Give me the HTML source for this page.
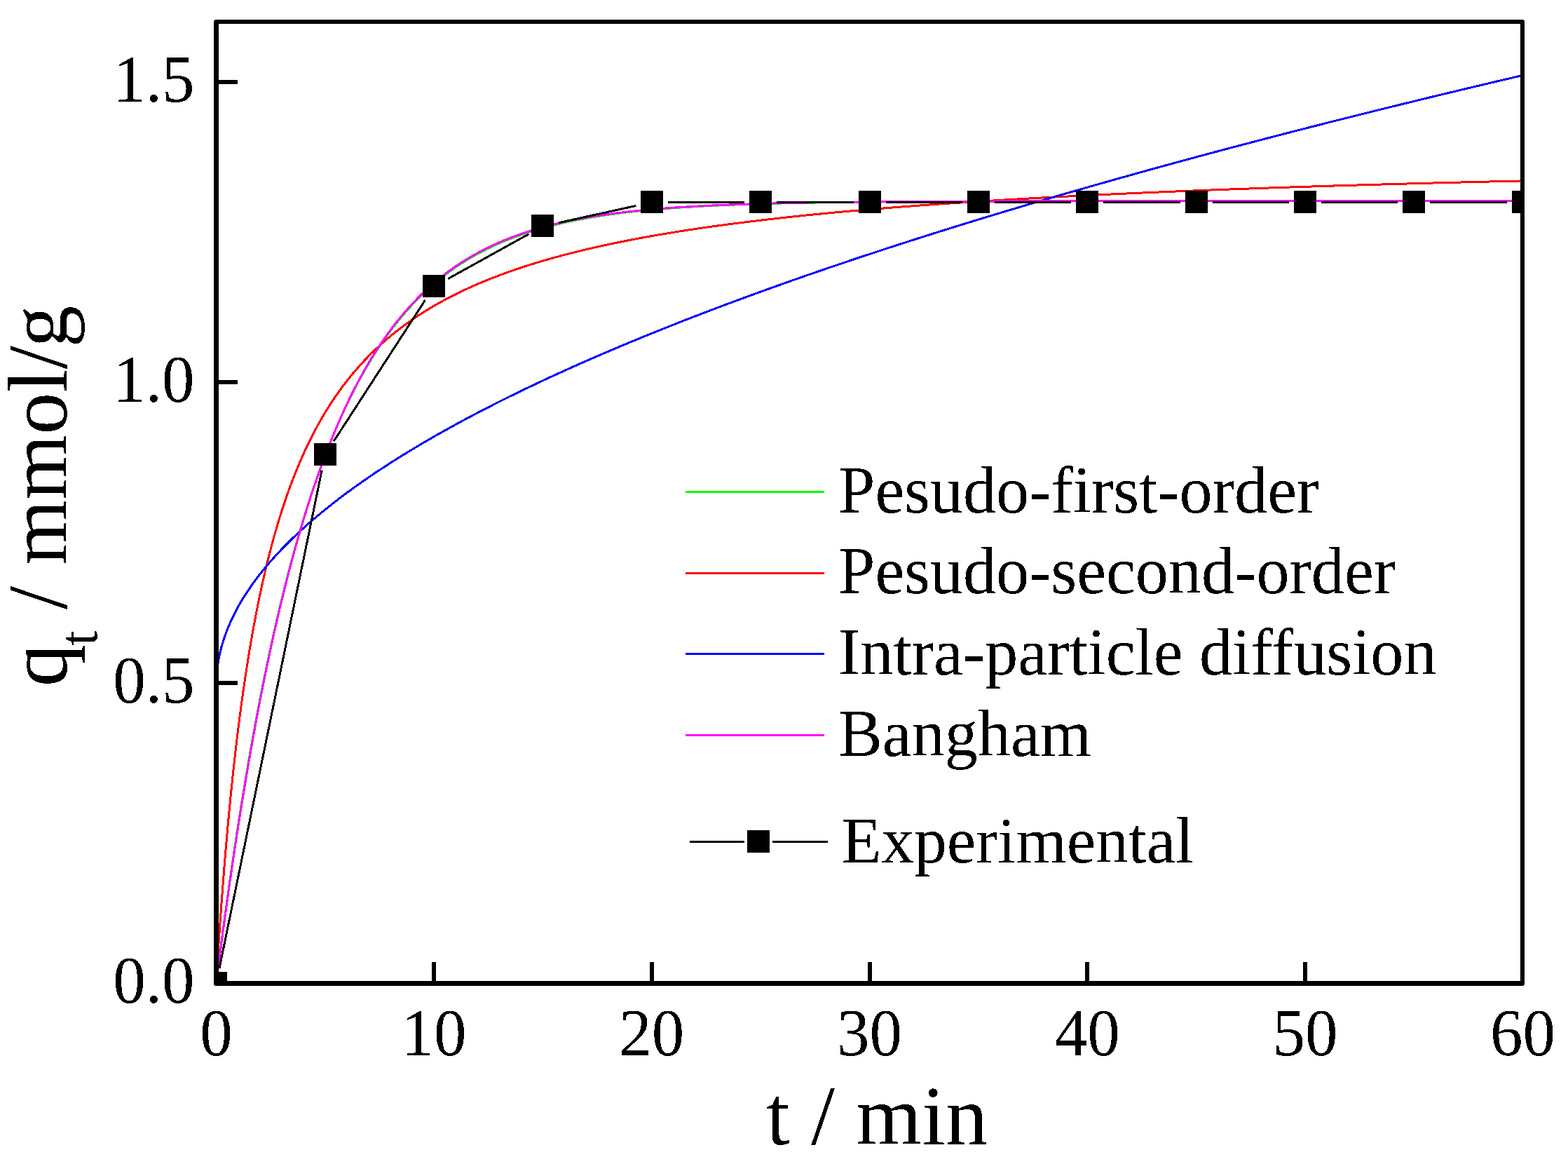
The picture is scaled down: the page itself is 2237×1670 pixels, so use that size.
<!DOCTYPE html>
<html lang="en"><head><meta charset="utf-8"><title>Adsorption kinetics</title>
<style>html,body{margin:0;padding:0;background:#fff}body{width:2237px;height:1670px;overflow:hidden}svg{display:block}text{font-family:"Liberation Serif","Times New Roman",serif;fill:#000}</style>
</head><body>
<svg width="2237" height="1670" viewBox="0 0 2237 1670" role="img" aria-label="Adsorption kinetics: qt versus t">
<rect width="2237" height="1670" fill="#fff"/>
<defs><clipPath id="plot"><rect x="312" y="34" width="1857" height="1365"/></clipPath><filter id="bin" x="-5%" y="-5%" width="110%" height="110%" color-interpolation-filters="sRGB"><feComponentTransfer><feFuncA type="discrete" tableValues="0 1"/></feComponentTransfer></filter></defs>
<g clip-path="url(#plot)" fill="none" stroke-width="3" stroke-linejoin="round" shape-rendering="crispEdges">
<path stroke="#00ff00" d="M308.40,1402.50 L308.41,1402.46 L308.42,1402.33 L308.45,1402.12 L308.48,1401.83 L308.53,1401.46 L308.59,1401.00 L308.65,1400.46 L308.73,1399.83 L308.82,1399.12 L308.92,1398.33 L309.03,1397.46 L309.15,1396.51 L309.28,1395.47 L309.41,1394.35 L309.57,1393.15 L309.73,1391.87 L309.90,1390.50 L310.08,1389.06 L310.27,1387.54 L310.47,1385.93 L310.68,1384.25 L310.91,1382.48 L311.14,1380.64 L311.38,1378.72 L311.64,1376.72 L311.90,1374.64 L312.18,1372.49 L312.46,1370.26 L312.75,1367.95 L313.06,1365.57 L313.38,1363.11 L313.70,1360.57 L314.04,1357.97 L314.39,1355.29 L314.74,1352.53 L315.11,1349.71 L315.49,1346.81 L315.88,1343.84 L316.28,1340.80 L316.69,1337.69 L317.10,1334.51 L317.53,1331.26 L317.97,1327.95 L318.43,1324.56 L318.89,1321.11 L319.36,1317.60 L319.84,1314.02 L320.33,1310.38 L320.83,1306.67 L321.35,1302.90 L321.87,1299.07 L322.40,1295.18 L322.95,1291.22 L323.50,1287.21 L324.06,1283.14 L324.64,1279.01 L325.22,1274.83 L325.82,1270.59 L326.43,1266.29 L327.04,1261.94 L327.67,1257.54 L328.31,1253.08 L328.95,1248.57 L329.61,1244.02 L330.28,1239.41 L330.96,1234.75 L331.65,1230.05 L332.34,1225.30 L333.05,1220.50 L333.77,1215.66 L334.50,1210.77 L335.24,1205.84 L336.00,1200.87 L336.76,1195.86 L337.53,1190.81 L338.31,1185.72 L339.10,1180.59 L339.90,1175.42 L340.72,1170.22 L341.54,1164.98 L342.38,1159.71 L343.22,1154.40 L344.07,1149.06 L344.94,1143.69 L345.81,1138.29 L346.70,1132.86 L347.59,1127.41 L348.50,1121.92 L349.42,1116.41 L350.34,1110.87 L351.28,1105.31 L352.23,1099.73 L353.19,1094.12 L354.16,1088.50 L355.13,1082.85 L356.12,1077.18 L357.12,1071.50 L358.13,1065.79 L359.15,1060.07 L360.18,1054.34 L361.22,1048.59 L362.28,1042.83 L363.34,1037.05 L364.41,1031.27 L365.49,1025.47 L366.58,1019.66 L367.69,1013.85 L368.80,1008.02 L369.92,1002.19 L371.06,996.36 L372.20,990.51 L373.36,984.67 L374.52,978.82 L375.70,972.97 L376.88,967.12 L378.08,961.26 L379.29,955.41 L380.50,949.56 L381.73,943.71 L382.97,937.86 L384.22,932.02 L385.47,926.18 L386.74,920.35 L388.02,914.52 L389.31,908.70 L390.61,902.89 L391.92,897.09 L393.24,891.29 L394.57,885.51 L395.91,879.74 L397.27,873.98 L398.63,868.23 L400.00,862.49 L401.38,856.77 L402.78,851.06 L404.18,845.37 L405.59,839.70 L407.02,834.04 L408.45,828.40 L409.90,822.77 L411.35,817.17 L412.82,811.58 L414.29,806.02 L415.78,800.48 L417.27,794.95 L418.78,789.45 L420.30,783.97 L421.83,778.51 L423.36,773.08 L424.91,767.67 L426.47,762.29 L428.04,756.93 L429.62,751.60 L431.21,746.29 L432.81,741.01 L434.42,735.75 L436.04,730.53 L437.67,725.33 L439.31,720.16 L440.97,715.02 L442.63,709.91 L444.30,704.82 L445.98,699.77 L447.68,694.75 L449.38,689.76 L451.09,684.80 L452.82,679.88 L454.55,674.98 L456.30,670.12 L458.05,665.29 L459.82,660.49 L461.60,655.72 L463.38,650.99 L465.18,646.29 L466.99,641.63 L468.80,637.00 L470.63,632.41 L472.47,627.85 L474.32,623.32 L476.18,618.83 L478.05,614.38 L479.93,609.96 L481.82,605.58 L483.72,601.23 L485.63,596.92 L487.55,592.64 L489.48,588.41 L491.42,584.20 L493.38,580.04 L495.34,575.91 L497.31,571.82 L499.29,567.76 L501.29,563.74 L503.29,559.76 L505.31,555.82 L507.33,551.91 L509.37,548.04 L511.41,544.21 L513.47,540.41 L515.53,536.66 L517.61,532.93 L519.70,529.25 L521.79,525.60 L523.90,522.00 L526.02,518.42 L528.15,514.89 L530.29,511.39 L532.44,507.93 L534.59,504.51 L536.76,501.12 L538.94,497.77 L541.14,494.46 L543.34,491.18 L545.55,487.94 L547.77,484.74 L550.00,481.57 L552.24,478.44 L554.50,475.35 L556.76,472.29 L559.03,469.26 L561.31,466.28 L563.61,463.33 L565.91,460.41 L568.23,457.53 L570.55,454.69 L572.89,451.88 L575.23,449.10 L577.59,446.36 L579.96,443.65 L582.33,440.98 L584.72,438.35 L587.12,435.74 L589.53,433.17 L591.94,430.64 L594.37,428.13 L596.81,425.66 L599.26,423.23 L601.72,420.82 L604.19,418.45 L606.67,416.11 L609.16,413.80 L611.66,411.53 L614.18,409.28 L616.70,407.07 L619.23,404.89 L621.77,402.74 L624.32,400.62 L626.89,398.53 L629.46,396.47 L632.05,394.44 L634.64,392.44 L637.24,390.47 L639.86,388.53 L642.49,386.61 L645.12,384.73 L647.77,382.87 L650.42,381.05 L653.09,379.24 L655.77,377.47 L658.46,375.73 L661.15,374.01 L663.86,372.32 L666.58,370.65 L669.31,369.01 L672.05,367.40 L674.80,365.81 L677.56,364.25 L680.33,362.72 L683.11,361.20 L685.90,359.72 L688.70,358.25 L691.51,356.82 L694.34,355.40 L697.17,354.01 L700.01,352.64 L702.86,351.30 L705.73,349.97 L708.60,348.67 L711.49,347.39 L714.38,346.14 L717.29,344.90 L720.20,343.69 L723.13,342.50 L726.06,341.33 L729.01,340.18 L731.97,339.05 L734.93,337.94 L737.91,336.85 L740.90,335.78 L743.90,334.72 L746.91,333.69 L749.93,332.68 L752.95,331.68 L755.99,330.71 L759.04,329.75 L762.10,328.81 L765.18,327.88 L768.26,326.97 L771.35,326.09 L774.45,325.21 L777.56,324.36 L780.68,323.52 L783.82,322.69 L786.96,321.88 L790.11,321.09 L793.28,320.31 L796.45,319.55 L799.64,318.80 L802.83,318.07 L806.04,317.35 L809.25,316.65 L812.48,315.96 L815.72,315.28 L818.96,314.62 L822.22,313.97 L825.49,313.33 L828.77,312.71 L832.05,312.10 L835.35,311.50 L838.66,310.92 L841.98,310.34 L845.31,309.78 L848.65,309.23 L852.00,308.69 L855.36,308.16 L858.73,307.65 L862.11,307.14 L865.51,306.65 L868.91,306.16 L872.32,305.69 L875.74,305.22 L879.18,304.77 L882.62,304.32 L886.07,303.89 L889.54,303.46 L893.01,303.05 L896.50,302.64 L899.99,302.24 L903.50,301.86 L907.02,301.48 L910.54,301.10 L914.08,300.74 L917.63,300.38 L921.18,300.04 L924.75,299.70 L928.33,299.37 L931.92,299.04 L935.52,298.72 L939.13,298.41 L942.75,298.11 L946.38,297.82 L950.02,297.53 L953.67,297.24 L957.33,296.97 L961.00,296.70 L964.68,296.44 L968.37,296.18 L972.08,295.93 L975.79,295.69 L979.51,295.45 L983.25,295.21 L986.99,294.99 L990.74,294.76 L994.51,294.55 L998.28,294.34 L1002.07,294.13 L1005.86,293.93 L1009.67,293.73 L1013.49,293.54 L1017.31,293.35 L1021.15,293.17 L1025.00,292.99 L1028.86,292.82 L1032.72,292.65 L1036.60,292.49 L1040.49,292.33 L1044.39,292.17 L1048.30,292.02 L1052.22,291.87 L1056.15,291.72 L1060.09,291.58 L1064.04,291.44 L1068.00,291.31 L1071.98,291.18 L1075.96,291.05 L1079.95,290.93 L1083.95,290.81 L1087.97,290.69 L1091.99,290.57 L1096.02,290.46 L1100.07,290.35 L1104.12,290.25 L1108.19,290.14 L1112.26,290.04 L1116.35,289.95 L1120.45,289.85 L1124.55,289.76 L1128.67,289.67 L1132.80,289.58 L1136.93,289.50 L1141.08,289.41 L1145.24,289.33 L1149.41,289.25 L1153.59,289.18 L1157.78,289.10 L1161.98,289.03 L1166.19,288.96 L1170.41,288.89 L1174.64,288.83 L1178.88,288.76 L1183.13,288.70 L1187.39,288.64 L1191.66,288.58 L1195.95,288.52 L1200.24,288.47 L1204.54,288.41 L1208.86,288.36 L1213.18,288.31 L1217.51,288.26 L1221.86,288.21 L1226.21,288.16 L1230.58,288.12 L1234.95,288.07 L1239.34,288.03 L1243.74,287.99 L1248.14,287.94 L1252.56,287.91 L1256.99,287.87 L1261.43,287.83 L1265.87,287.79 L1270.33,287.76 L1274.80,287.72 L1279.28,287.69 L1283.77,287.66 L1288.27,287.63 L1292.78,287.60 L1297.30,287.57 L1301.83,287.54 L1306.37,287.51 L1310.93,287.49 L1315.49,287.46 L1320.06,287.43 L1324.64,287.41 L1329.24,287.39 L1333.84,287.36 L1338.45,287.34 L1343.08,287.32 L1347.71,287.30 L1352.36,287.28 L1357.01,287.26 L1361.68,287.24 L1366.35,287.22 L1371.04,287.20 L1375.74,287.19 L1380.44,287.17 L1385.16,287.15 L1389.89,287.14 L1394.63,287.12 L1399.38,287.11 L1404.14,287.09 L1408.90,287.08 L1413.68,287.07 L1418.47,287.05 L1423.27,287.04 L1428.09,287.03 L1432.91,287.02 L1437.74,287.01 L1442.58,287.00 L1447.43,286.98 L1452.29,286.97 L1457.17,286.96 L1462.05,286.95 L1466.94,286.95 L1471.85,286.94 L1476.76,286.93 L1481.69,286.92 L1486.62,286.91 L1491.57,286.90 L1496.52,286.90 L1501.49,286.89 L1506.46,286.88 L1511.45,286.87 L1516.45,286.87 L1521.46,286.86 L1526.47,286.85 L1531.50,286.85 L1536.54,286.84 L1541.59,286.84 L1546.65,286.83 L1551.72,286.83 L1556.80,286.82 L1561.89,286.82 L1566.99,286.81 L1572.10,286.81 L1577.22,286.80 L1582.35,286.80 L1587.49,286.79 L1592.65,286.79 L1597.81,286.79 L1602.98,286.78 L1608.17,286.78 L1613.36,286.78 L1618.56,286.77 L1623.78,286.77 L1629.00,286.77 L1634.24,286.76 L1639.49,286.76 L1644.74,286.76 L1650.01,286.76 L1655.28,286.75 L1660.57,286.75 L1665.87,286.75 L1671.18,286.75 L1676.49,286.74 L1681.82,286.74 L1687.16,286.74 L1692.51,286.74 L1697.87,286.73 L1703.24,286.73 L1708.62,286.73 L1714.01,286.73 L1719.41,286.73 L1724.82,286.73 L1730.25,286.72 L1735.68,286.72 L1741.12,286.72 L1746.57,286.72 L1752.04,286.72 L1757.51,286.72 L1762.99,286.72 L1768.49,286.72 L1773.99,286.71 L1779.51,286.71 L1785.03,286.71 L1790.57,286.71 L1796.11,286.71 L1801.67,286.71 L1807.24,286.71 L1812.81,286.71 L1818.40,286.71 L1824.00,286.71 L1829.61,286.70 L1835.23,286.70 L1840.86,286.70 L1846.49,286.70 L1852.14,286.70 L1857.80,286.70 L1863.47,286.70 L1869.15,286.70 L1874.85,286.70 L1880.55,286.70 L1886.26,286.70 L1891.98,286.70 L1897.71,286.70 L1903.46,286.70 L1909.21,286.70 L1914.97,286.70 L1920.75,286.70 L1926.53,286.70 L1932.33,286.69 L1938.13,286.69 L1943.95,286.69 L1949.77,286.69 L1955.61,286.69 L1961.45,286.69 L1967.31,286.69 L1973.18,286.69 L1979.05,286.69 L1984.94,286.69 L1990.84,286.69 L1996.75,286.69 L2002.67,286.69 L2008.60,286.69 L2014.54,286.69 L2020.49,286.69 L2026.45,286.69 L2032.42,286.69 L2038.40,286.69 L2044.39,286.69 L2050.39,286.69 L2056.40,286.69 L2062.43,286.69 L2068.46,286.69 L2074.50,286.69 L2080.56,286.69 L2086.62,286.69 L2092.69,286.69 L2098.78,286.69 L2104.87,286.69 L2110.98,286.69 L2117.09,286.69 L2123.22,286.69 L2129.36,286.69 L2135.50,286.69 L2141.66,286.69 L2147.83,286.69 L2154.00,286.69 L2160.19,286.69 L2166.39,286.69 L2172.60,286.69"/>
<path stroke="#ff0000" d="M308.40,1402.50 L308.41,1402.41 L308.42,1402.16 L308.45,1401.73 L308.48,1401.12 L308.53,1400.35 L308.59,1399.41 L308.65,1398.30 L308.73,1397.01 L308.82,1395.57 L308.92,1393.95 L309.03,1392.17 L309.15,1390.23 L309.28,1388.12 L309.41,1385.86 L309.57,1383.44 L309.73,1380.86 L309.90,1378.13 L310.08,1375.24 L310.27,1372.21 L310.47,1369.03 L310.68,1365.70 L310.91,1362.24 L311.14,1358.63 L311.38,1354.89 L311.64,1351.02 L311.90,1347.01 L312.18,1342.88 L312.46,1338.62 L312.75,1334.24 L313.06,1329.75 L313.38,1325.14 L313.70,1320.42 L314.04,1315.59 L314.39,1310.65 L314.74,1305.62 L315.11,1300.49 L315.49,1295.26 L315.88,1289.94 L316.28,1284.53 L316.69,1279.04 L317.10,1273.47 L317.53,1267.82 L317.97,1262.10 L318.43,1256.30 L318.89,1250.44 L319.36,1244.52 L319.84,1238.53 L320.33,1232.49 L320.83,1226.39 L321.35,1220.25 L321.87,1214.05 L322.40,1207.81 L322.95,1201.53 L323.50,1195.21 L324.06,1188.85 L324.64,1182.46 L325.22,1176.05 L325.82,1169.60 L326.43,1163.13 L327.04,1156.64 L327.67,1150.13 L328.31,1143.61 L328.95,1137.07 L329.61,1130.52 L330.28,1123.96 L330.96,1117.40 L331.65,1110.83 L332.34,1104.26 L333.05,1097.69 L333.77,1091.12 L334.50,1084.56 L335.24,1078.00 L336.00,1071.45 L336.76,1064.92 L337.53,1058.39 L338.31,1051.88 L339.10,1045.38 L339.90,1038.90 L340.72,1032.44 L341.54,1026.00 L342.38,1019.58 L343.22,1013.18 L344.07,1006.81 L344.94,1000.46 L345.81,994.14 L346.70,987.85 L347.59,981.58 L348.50,975.35 L349.42,969.15 L350.34,962.98 L351.28,956.84 L352.23,950.73 L353.19,944.66 L354.16,938.63 L355.13,932.63 L356.12,926.66 L357.12,920.74 L358.13,914.85 L359.15,909.00 L360.18,903.19 L361.22,897.42 L362.28,891.69 L363.34,886.00 L364.41,880.35 L365.49,874.74 L366.58,869.17 L367.69,863.64 L368.80,858.16 L369.92,852.72 L371.06,847.32 L372.20,841.96 L373.36,836.64 L374.52,831.37 L375.70,826.14 L376.88,820.96 L378.08,815.81 L379.29,810.71 L380.50,805.65 L381.73,800.64 L382.97,795.67 L384.22,790.74 L385.47,785.86 L386.74,781.01 L388.02,776.21 L389.31,771.46 L390.61,766.74 L391.92,762.07 L393.24,757.44 L394.57,752.85 L395.91,748.31 L397.27,743.80 L398.63,739.34 L400.00,734.92 L401.38,730.54 L402.78,726.20 L404.18,721.91 L405.59,717.65 L407.02,713.43 L408.45,709.26 L409.90,705.12 L411.35,701.02 L412.82,696.96 L414.29,692.95 L415.78,688.97 L417.27,685.02 L418.78,681.12 L420.30,677.26 L421.83,673.43 L423.36,669.64 L424.91,665.89 L426.47,662.17 L428.04,658.49 L429.62,654.85 L431.21,651.24 L432.81,647.67 L434.42,644.13 L436.04,640.63 L437.67,637.17 L439.31,633.73 L440.97,630.34 L442.63,626.97 L444.30,623.64 L445.98,620.34 L447.68,617.08 L449.38,613.85 L451.09,610.65 L452.82,607.48 L454.55,604.34 L456.30,601.24 L458.05,598.16 L459.82,595.12 L461.60,592.11 L463.38,589.12 L465.18,586.17 L466.99,583.25 L468.80,580.35 L470.63,577.49 L472.47,574.65 L474.32,571.84 L476.18,569.06 L478.05,566.31 L479.93,563.58 L481.82,560.89 L483.72,558.22 L485.63,555.57 L487.55,552.95 L489.48,550.36 L491.42,547.79 L493.38,545.25 L495.34,542.74 L497.31,540.25 L499.29,537.78 L501.29,535.34 L503.29,532.92 L505.31,530.53 L507.33,528.16 L509.37,525.81 L511.41,523.49 L513.47,521.19 L515.53,518.91 L517.61,516.65 L519.70,514.42 L521.79,512.21 L523.90,510.02 L526.02,507.85 L528.15,505.70 L530.29,503.58 L532.44,501.47 L534.59,499.38 L536.76,497.32 L538.94,495.27 L541.14,493.25 L543.34,491.24 L545.55,489.26 L547.77,487.29 L550.00,485.34 L552.24,483.41 L554.50,481.50 L556.76,479.61 L559.03,477.74 L561.31,475.88 L563.61,474.04 L565.91,472.22 L568.23,470.41 L570.55,468.63 L572.89,466.86 L575.23,465.10 L577.59,463.37 L579.96,461.65 L582.33,459.94 L584.72,458.26 L587.12,456.58 L589.53,454.93 L591.94,453.29 L594.37,451.66 L596.81,450.05 L599.26,448.45 L601.72,446.87 L604.19,445.31 L606.67,443.76 L609.16,442.22 L611.66,440.69 L614.18,439.19 L616.70,437.69 L619.23,436.21 L621.77,434.74 L624.32,433.29 L626.89,431.85 L629.46,430.42 L632.05,429.00 L634.64,427.60 L637.24,426.21 L639.86,424.83 L642.49,423.47 L645.12,422.12 L647.77,420.77 L650.42,419.45 L653.09,418.13 L655.77,416.83 L658.46,415.53 L661.15,414.25 L663.86,412.98 L666.58,411.72 L669.31,410.47 L672.05,409.24 L674.80,408.01 L677.56,406.80 L680.33,405.59 L683.11,404.40 L685.90,403.21 L688.70,402.04 L691.51,400.88 L694.34,399.72 L697.17,398.58 L700.01,397.45 L702.86,396.33 L705.73,395.21 L708.60,394.11 L711.49,393.01 L714.38,391.93 L717.29,390.85 L720.20,389.78 L723.13,388.73 L726.06,387.68 L729.01,386.64 L731.97,385.61 L734.93,384.59 L737.91,383.57 L740.90,382.57 L743.90,381.57 L746.91,380.58 L749.93,379.60 L752.95,378.63 L755.99,377.66 L759.04,376.71 L762.10,375.76 L765.18,374.82 L768.26,373.89 L771.35,372.96 L774.45,372.05 L777.56,371.14 L780.68,370.23 L783.82,369.34 L786.96,368.45 L790.11,367.57 L793.28,366.70 L796.45,365.83 L799.64,364.97 L802.83,364.12 L806.04,363.27 L809.25,362.44 L812.48,361.60 L815.72,360.78 L818.96,359.96 L822.22,359.15 L825.49,358.34 L828.77,357.54 L832.05,356.75 L835.35,355.96 L838.66,355.18 L841.98,354.41 L845.31,353.64 L848.65,352.88 L852.00,352.12 L855.36,351.37 L858.73,350.62 L862.11,349.89 L865.51,349.15 L868.91,348.43 L872.32,347.70 L875.74,346.99 L879.18,346.28 L882.62,345.57 L886.07,344.87 L889.54,344.18 L893.01,343.49 L896.50,342.80 L899.99,342.12 L903.50,341.45 L907.02,340.78 L910.54,340.12 L914.08,339.46 L917.63,338.81 L921.18,338.16 L924.75,337.51 L928.33,336.87 L931.92,336.24 L935.52,335.61 L939.13,334.98 L942.75,334.36 L946.38,333.75 L950.02,333.14 L953.67,332.53 L957.33,331.93 L961.00,331.33 L964.68,330.74 L968.37,330.15 L972.08,329.56 L975.79,328.98 L979.51,328.41 L983.25,327.83 L986.99,327.26 L990.74,326.70 L994.51,326.14 L998.28,325.58 L1002.07,325.03 L1005.86,324.48 L1009.67,323.94 L1013.49,323.40 L1017.31,322.86 L1021.15,322.33 L1025.00,321.80 L1028.86,321.28 L1032.72,320.76 L1036.60,320.24 L1040.49,319.72 L1044.39,319.21 L1048.30,318.71 L1052.22,318.20 L1056.15,317.70 L1060.09,317.21 L1064.04,316.71 L1068.00,316.22 L1071.98,315.74 L1075.96,315.26 L1079.95,314.78 L1083.95,314.30 L1087.97,313.83 L1091.99,313.36 L1096.02,312.89 L1100.07,312.43 L1104.12,311.97 L1108.19,311.51 L1112.26,311.06 L1116.35,310.61 L1120.45,310.16 L1124.55,309.71 L1128.67,309.27 L1132.80,308.83 L1136.93,308.40 L1141.08,307.96 L1145.24,307.53 L1149.41,307.11 L1153.59,306.68 L1157.78,306.26 L1161.98,305.84 L1166.19,305.43 L1170.41,305.01 L1174.64,304.60 L1178.88,304.19 L1183.13,303.79 L1187.39,303.39 L1191.66,302.99 L1195.95,302.59 L1200.24,302.19 L1204.54,301.80 L1208.86,301.41 L1213.18,301.03 L1217.51,300.64 L1221.86,300.26 L1226.21,299.88 L1230.58,299.50 L1234.95,299.13 L1239.34,298.75 L1243.74,298.38 L1248.14,298.02 L1252.56,297.65 L1256.99,297.29 L1261.43,296.93 L1265.87,296.57 L1270.33,296.21 L1274.80,295.86 L1279.28,295.51 L1283.77,295.16 L1288.27,294.81 L1292.78,294.47 L1297.30,294.12 L1301.83,293.78 L1306.37,293.44 L1310.93,293.11 L1315.49,292.77 L1320.06,292.44 L1324.64,292.11 L1329.24,291.78 L1333.84,291.45 L1338.45,291.13 L1343.08,290.81 L1347.71,290.49 L1352.36,290.17 L1357.01,289.85 L1361.68,289.54 L1366.35,289.22 L1371.04,288.91 L1375.74,288.60 L1380.44,288.30 L1385.16,287.99 L1389.89,287.69 L1394.63,287.39 L1399.38,287.09 L1404.14,286.79 L1408.90,286.49 L1413.68,286.20 L1418.47,285.91 L1423.27,285.62 L1428.09,285.33 L1432.91,285.04 L1437.74,284.75 L1442.58,284.47 L1447.43,284.19 L1452.29,283.91 L1457.17,283.63 L1462.05,283.35 L1466.94,283.07 L1471.85,282.80 L1476.76,282.53 L1481.69,282.26 L1486.62,281.99 L1491.57,281.72 L1496.52,281.45 L1501.49,281.19 L1506.46,280.92 L1511.45,280.66 L1516.45,280.40 L1521.46,280.14 L1526.47,279.89 L1531.50,279.63 L1536.54,279.38 L1541.59,279.12 L1546.65,278.87 L1551.72,278.62 L1556.80,278.37 L1561.89,278.12 L1566.99,277.88 L1572.10,277.63 L1577.22,277.39 L1582.35,277.15 L1587.49,276.91 L1592.65,276.67 L1597.81,276.43 L1602.98,276.20 L1608.17,275.96 L1613.36,275.73 L1618.56,275.49 L1623.78,275.26 L1629.00,275.03 L1634.24,274.81 L1639.49,274.58 L1644.74,274.35 L1650.01,274.13 L1655.28,273.90 L1660.57,273.68 L1665.87,273.46 L1671.18,273.24 L1676.49,273.02 L1681.82,272.80 L1687.16,272.59 L1692.51,272.37 L1697.87,272.16 L1703.24,271.94 L1708.62,271.73 L1714.01,271.52 L1719.41,271.31 L1724.82,271.10 L1730.25,270.90 L1735.68,270.69 L1741.12,270.49 L1746.57,270.28 L1752.04,270.08 L1757.51,269.88 L1762.99,269.68 L1768.49,269.48 L1773.99,269.28 L1779.51,269.08 L1785.03,268.88 L1790.57,268.69 L1796.11,268.49 L1801.67,268.30 L1807.24,268.11 L1812.81,267.92 L1818.40,267.73 L1824.00,267.54 L1829.61,267.35 L1835.23,267.16 L1840.86,266.97 L1846.49,266.79 L1852.14,266.60 L1857.80,266.42 L1863.47,266.24 L1869.15,266.06 L1874.85,265.87 L1880.55,265.70 L1886.26,265.52 L1891.98,265.34 L1897.71,265.16 L1903.46,264.98 L1909.21,264.81 L1914.97,264.63 L1920.75,264.46 L1926.53,264.29 L1932.33,264.12 L1938.13,263.95 L1943.95,263.78 L1949.77,263.61 L1955.61,263.44 L1961.45,263.27 L1967.31,263.10 L1973.18,262.94 L1979.05,262.77 L1984.94,262.61 L1990.84,262.44 L1996.75,262.28 L2002.67,262.12 L2008.60,261.96 L2014.54,261.80 L2020.49,261.64 L2026.45,261.48 L2032.42,261.32 L2038.40,261.17 L2044.39,261.01 L2050.39,260.85 L2056.40,260.70 L2062.43,260.55 L2068.46,260.39 L2074.50,260.24 L2080.56,260.09 L2086.62,259.94 L2092.69,259.79 L2098.78,259.64 L2104.87,259.49 L2110.98,259.34 L2117.09,259.19 L2123.22,259.05 L2129.36,258.90 L2135.50,258.75 L2141.66,258.61 L2147.83,258.47 L2154.00,258.32 L2160.19,258.18 L2166.39,258.04 L2172.60,257.90"/>
<path stroke="#0000ff" d="M308.40,978.29 L308.41,976.83 L308.42,975.38 L308.45,973.93 L308.48,972.48 L308.53,971.03 L308.59,969.58 L308.65,968.12 L308.73,966.67 L308.82,965.22 L308.92,963.77 L309.03,962.32 L309.15,960.87 L309.28,959.41 L309.41,957.96 L309.57,956.51 L309.73,955.06 L309.90,953.61 L310.08,952.16 L310.27,950.71 L310.47,949.25 L310.68,947.80 L310.91,946.35 L311.14,944.90 L311.38,943.45 L311.64,942.00 L311.90,940.54 L312.18,939.09 L312.46,937.64 L312.75,936.19 L313.06,934.74 L313.38,933.29 L313.70,931.83 L314.04,930.38 L314.39,928.93 L314.74,927.48 L315.11,926.03 L315.49,924.58 L315.88,923.13 L316.28,921.67 L316.69,920.22 L317.10,918.77 L317.53,917.32 L317.97,915.87 L318.43,914.42 L318.89,912.96 L319.36,911.51 L319.84,910.06 L320.33,908.61 L320.83,907.16 L321.35,905.71 L321.87,904.25 L322.40,902.80 L322.95,901.35 L323.50,899.90 L324.06,898.45 L324.64,897.00 L325.22,895.55 L325.82,894.09 L326.43,892.64 L327.04,891.19 L327.67,889.74 L328.31,888.29 L328.95,886.84 L329.61,885.38 L330.28,883.93 L330.96,882.48 L331.65,881.03 L332.34,879.58 L333.05,878.13 L333.77,876.67 L334.50,875.22 L335.24,873.77 L336.00,872.32 L336.76,870.87 L337.53,869.42 L338.31,867.97 L339.10,866.51 L339.90,865.06 L340.72,863.61 L341.54,862.16 L342.38,860.71 L343.22,859.26 L344.07,857.80 L344.94,856.35 L345.81,854.90 L346.70,853.45 L347.59,852.00 L348.50,850.55 L349.42,849.09 L350.34,847.64 L351.28,846.19 L352.23,844.74 L353.19,843.29 L354.16,841.84 L355.13,840.39 L356.12,838.93 L357.12,837.48 L358.13,836.03 L359.15,834.58 L360.18,833.13 L361.22,831.68 L362.28,830.22 L363.34,828.77 L364.41,827.32 L365.49,825.87 L366.58,824.42 L367.69,822.97 L368.80,821.52 L369.92,820.06 L371.06,818.61 L372.20,817.16 L373.36,815.71 L374.52,814.26 L375.70,812.81 L376.88,811.35 L378.08,809.90 L379.29,808.45 L380.50,807.00 L381.73,805.55 L382.97,804.10 L384.22,802.64 L385.47,801.19 L386.74,799.74 L388.02,798.29 L389.31,796.84 L390.61,795.39 L391.92,793.94 L393.24,792.48 L394.57,791.03 L395.91,789.58 L397.27,788.13 L398.63,786.68 L400.00,785.23 L401.38,783.77 L402.78,782.32 L404.18,780.87 L405.59,779.42 L407.02,777.97 L408.45,776.52 L409.90,775.06 L411.35,773.61 L412.82,772.16 L414.29,770.71 L415.78,769.26 L417.27,767.81 L418.78,766.36 L420.30,764.90 L421.83,763.45 L423.36,762.00 L424.91,760.55 L426.47,759.10 L428.04,757.65 L429.62,756.19 L431.21,754.74 L432.81,753.29 L434.42,751.84 L436.04,750.39 L437.67,748.94 L439.31,747.48 L440.97,746.03 L442.63,744.58 L444.30,743.13 L445.98,741.68 L447.68,740.23 L449.38,738.78 L451.09,737.32 L452.82,735.87 L454.55,734.42 L456.30,732.97 L458.05,731.52 L459.82,730.07 L461.60,728.61 L463.38,727.16 L465.18,725.71 L466.99,724.26 L468.80,722.81 L470.63,721.36 L472.47,719.90 L474.32,718.45 L476.18,717.00 L478.05,715.55 L479.93,714.10 L481.82,712.65 L483.72,711.20 L485.63,709.74 L487.55,708.29 L489.48,706.84 L491.42,705.39 L493.38,703.94 L495.34,702.49 L497.31,701.03 L499.29,699.58 L501.29,698.13 L503.29,696.68 L505.31,695.23 L507.33,693.78 L509.37,692.33 L511.41,690.87 L513.47,689.42 L515.53,687.97 L517.61,686.52 L519.70,685.07 L521.79,683.62 L523.90,682.16 L526.02,680.71 L528.15,679.26 L530.29,677.81 L532.44,676.36 L534.59,674.91 L536.76,673.45 L538.94,672.00 L541.14,670.55 L543.34,669.10 L545.55,667.65 L547.77,666.20 L550.00,664.75 L552.24,663.29 L554.50,661.84 L556.76,660.39 L559.03,658.94 L561.31,657.49 L563.61,656.04 L565.91,654.58 L568.23,653.13 L570.55,651.68 L572.89,650.23 L575.23,648.78 L577.59,647.33 L579.96,645.87 L582.33,644.42 L584.72,642.97 L587.12,641.52 L589.53,640.07 L591.94,638.62 L594.37,637.17 L596.81,635.71 L599.26,634.26 L601.72,632.81 L604.19,631.36 L606.67,629.91 L609.16,628.46 L611.66,627.00 L614.18,625.55 L616.70,624.10 L619.23,622.65 L621.77,621.20 L624.32,619.75 L626.89,618.29 L629.46,616.84 L632.05,615.39 L634.64,613.94 L637.24,612.49 L639.86,611.04 L642.49,609.59 L645.12,608.13 L647.77,606.68 L650.42,605.23 L653.09,603.78 L655.77,602.33 L658.46,600.88 L661.15,599.42 L663.86,597.97 L666.58,596.52 L669.31,595.07 L672.05,593.62 L674.80,592.17 L677.56,590.71 L680.33,589.26 L683.11,587.81 L685.90,586.36 L688.70,584.91 L691.51,583.46 L694.34,582.01 L697.17,580.55 L700.01,579.10 L702.86,577.65 L705.73,576.20 L708.60,574.75 L711.49,573.30 L714.38,571.84 L717.29,570.39 L720.20,568.94 L723.13,567.49 L726.06,566.04 L729.01,564.59 L731.97,563.13 L734.93,561.68 L737.91,560.23 L740.90,558.78 L743.90,557.33 L746.91,555.88 L749.93,554.43 L752.95,552.97 L755.99,551.52 L759.04,550.07 L762.10,548.62 L765.18,547.17 L768.26,545.72 L771.35,544.26 L774.45,542.81 L777.56,541.36 L780.68,539.91 L783.82,538.46 L786.96,537.01 L790.11,535.56 L793.28,534.10 L796.45,532.65 L799.64,531.20 L802.83,529.75 L806.04,528.30 L809.25,526.85 L812.48,525.39 L815.72,523.94 L818.96,522.49 L822.22,521.04 L825.49,519.59 L828.77,518.14 L832.05,516.68 L835.35,515.23 L838.66,513.78 L841.98,512.33 L845.31,510.88 L848.65,509.43 L852.00,507.98 L855.36,506.52 L858.73,505.07 L862.11,503.62 L865.51,502.17 L868.91,500.72 L872.32,499.27 L875.74,497.81 L879.18,496.36 L882.62,494.91 L886.07,493.46 L889.54,492.01 L893.01,490.56 L896.50,489.10 L899.99,487.65 L903.50,486.20 L907.02,484.75 L910.54,483.30 L914.08,481.85 L917.63,480.40 L921.18,478.94 L924.75,477.49 L928.33,476.04 L931.92,474.59 L935.52,473.14 L939.13,471.69 L942.75,470.23 L946.38,468.78 L950.02,467.33 L953.67,465.88 L957.33,464.43 L961.00,462.98 L964.68,461.52 L968.37,460.07 L972.08,458.62 L975.79,457.17 L979.51,455.72 L983.25,454.27 L986.99,452.82 L990.74,451.36 L994.51,449.91 L998.28,448.46 L1002.07,447.01 L1005.86,445.56 L1009.67,444.11 L1013.49,442.65 L1017.31,441.20 L1021.15,439.75 L1025.00,438.30 L1028.86,436.85 L1032.72,435.40 L1036.60,433.94 L1040.49,432.49 L1044.39,431.04 L1048.30,429.59 L1052.22,428.14 L1056.15,426.69 L1060.09,425.24 L1064.04,423.78 L1068.00,422.33 L1071.98,420.88 L1075.96,419.43 L1079.95,417.98 L1083.95,416.53 L1087.97,415.07 L1091.99,413.62 L1096.02,412.17 L1100.07,410.72 L1104.12,409.27 L1108.19,407.82 L1112.26,406.37 L1116.35,404.91 L1120.45,403.46 L1124.55,402.01 L1128.67,400.56 L1132.80,399.11 L1136.93,397.66 L1141.08,396.20 L1145.24,394.75 L1149.41,393.30 L1153.59,391.85 L1157.78,390.40 L1161.98,388.95 L1166.19,387.49 L1170.41,386.04 L1174.64,384.59 L1178.88,383.14 L1183.13,381.69 L1187.39,380.24 L1191.66,378.79 L1195.95,377.33 L1200.24,375.88 L1204.54,374.43 L1208.86,372.98 L1213.18,371.53 L1217.51,370.08 L1221.86,368.62 L1226.21,367.17 L1230.58,365.72 L1234.95,364.27 L1239.34,362.82 L1243.74,361.37 L1248.14,359.91 L1252.56,358.46 L1256.99,357.01 L1261.43,355.56 L1265.87,354.11 L1270.33,352.66 L1274.80,351.21 L1279.28,349.75 L1283.77,348.30 L1288.27,346.85 L1292.78,345.40 L1297.30,343.95 L1301.83,342.50 L1306.37,341.04 L1310.93,339.59 L1315.49,338.14 L1320.06,336.69 L1324.64,335.24 L1329.24,333.79 L1333.84,332.33 L1338.45,330.88 L1343.08,329.43 L1347.71,327.98 L1352.36,326.53 L1357.01,325.08 L1361.68,323.63 L1366.35,322.17 L1371.04,320.72 L1375.74,319.27 L1380.44,317.82 L1385.16,316.37 L1389.89,314.92 L1394.63,313.46 L1399.38,312.01 L1404.14,310.56 L1408.90,309.11 L1413.68,307.66 L1418.47,306.21 L1423.27,304.75 L1428.09,303.30 L1432.91,301.85 L1437.74,300.40 L1442.58,298.95 L1447.43,297.50 L1452.29,296.05 L1457.17,294.59 L1462.05,293.14 L1466.94,291.69 L1471.85,290.24 L1476.76,288.79 L1481.69,287.34 L1486.62,285.88 L1491.57,284.43 L1496.52,282.98 L1501.49,281.53 L1506.46,280.08 L1511.45,278.63 L1516.45,277.17 L1521.46,275.72 L1526.47,274.27 L1531.50,272.82 L1536.54,271.37 L1541.59,269.92 L1546.65,268.47 L1551.72,267.01 L1556.80,265.56 L1561.89,264.11 L1566.99,262.66 L1572.10,261.21 L1577.22,259.76 L1582.35,258.30 L1587.49,256.85 L1592.65,255.40 L1597.81,253.95 L1602.98,252.50 L1608.17,251.05 L1613.36,249.60 L1618.56,248.14 L1623.78,246.69 L1629.00,245.24 L1634.24,243.79 L1639.49,242.34 L1644.74,240.89 L1650.01,239.43 L1655.28,237.98 L1660.57,236.53 L1665.87,235.08 L1671.18,233.63 L1676.49,232.18 L1681.82,230.72 L1687.16,229.27 L1692.51,227.82 L1697.87,226.37 L1703.24,224.92 L1708.62,223.47 L1714.01,222.02 L1719.41,220.56 L1724.82,219.11 L1730.25,217.66 L1735.68,216.21 L1741.12,214.76 L1746.57,213.31 L1752.04,211.85 L1757.51,210.40 L1762.99,208.95 L1768.49,207.50 L1773.99,206.05 L1779.51,204.60 L1785.03,203.14 L1790.57,201.69 L1796.11,200.24 L1801.67,198.79 L1807.24,197.34 L1812.81,195.89 L1818.40,194.44 L1824.00,192.98 L1829.61,191.53 L1835.23,190.08 L1840.86,188.63 L1846.49,187.18 L1852.14,185.73 L1857.80,184.27 L1863.47,182.82 L1869.15,181.37 L1874.85,179.92 L1880.55,178.47 L1886.26,177.02 L1891.98,175.56 L1897.71,174.11 L1903.46,172.66 L1909.21,171.21 L1914.97,169.76 L1920.75,168.31 L1926.53,166.86 L1932.33,165.40 L1938.13,163.95 L1943.95,162.50 L1949.77,161.05 L1955.61,159.60 L1961.45,158.15 L1967.31,156.69 L1973.18,155.24 L1979.05,153.79 L1984.94,152.34 L1990.84,150.89 L1996.75,149.44 L2002.67,147.98 L2008.60,146.53 L2014.54,145.08 L2020.49,143.63 L2026.45,142.18 L2032.42,140.73 L2038.40,139.28 L2044.39,137.82 L2050.39,136.37 L2056.40,134.92 L2062.43,133.47 L2068.46,132.02 L2074.50,130.57 L2080.56,129.11 L2086.62,127.66 L2092.69,126.21 L2098.78,124.76 L2104.87,123.31 L2110.98,121.86 L2117.09,120.41 L2123.22,118.95 L2129.36,117.50 L2135.50,116.05 L2141.66,114.60 L2147.83,113.15 L2154.00,111.70 L2160.19,110.24 L2166.39,108.79 L2172.60,107.34"/>
<path stroke="#ff00ff" d="M308.40,1402.50 L308.41,1402.46 L308.42,1402.34 L308.45,1402.15 L308.48,1401.87 L308.53,1401.51 L308.59,1401.08 L308.65,1400.56 L308.73,1399.96 L308.82,1399.28 L308.92,1398.52 L309.03,1397.68 L309.15,1396.76 L309.28,1395.75 L309.41,1394.67 L309.57,1393.51 L309.73,1392.26 L309.90,1390.94 L310.08,1389.54 L310.27,1388.05 L310.47,1386.49 L310.68,1384.85 L310.91,1383.13 L311.14,1381.33 L311.38,1379.46 L311.64,1377.50 L311.90,1375.47 L312.18,1373.36 L312.46,1371.18 L312.75,1368.91 L313.06,1366.58 L313.38,1364.16 L313.70,1361.68 L314.04,1359.12 L314.39,1356.48 L314.74,1353.77 L315.11,1350.99 L315.49,1348.14 L315.88,1345.22 L316.28,1342.22 L316.69,1339.15 L317.10,1336.02 L317.53,1332.82 L317.97,1329.54 L318.43,1326.20 L318.89,1322.80 L319.36,1319.32 L319.84,1315.79 L320.33,1312.18 L320.83,1308.52 L321.35,1304.78 L321.87,1300.99 L322.40,1297.14 L322.95,1293.22 L323.50,1289.24 L324.06,1285.21 L324.64,1281.11 L325.22,1276.96 L325.82,1272.75 L326.43,1268.49 L327.04,1264.17 L327.67,1259.80 L328.31,1255.37 L328.95,1250.89 L329.61,1246.36 L330.28,1241.77 L330.96,1237.14 L331.65,1232.46 L332.34,1227.73 L333.05,1222.96 L333.77,1218.13 L334.50,1213.27 L335.24,1208.36 L336.00,1203.40 L336.76,1198.40 L337.53,1193.37 L338.31,1188.29 L339.10,1183.17 L339.90,1178.01 L340.72,1172.82 L341.54,1167.59 L342.38,1162.33 L343.22,1157.03 L344.07,1151.69 L344.94,1146.33 L345.81,1140.93 L346.70,1135.51 L347.59,1130.05 L348.50,1124.56 L349.42,1119.05 L350.34,1113.51 L351.28,1107.95 L352.23,1102.36 L353.19,1096.75 L354.16,1091.11 L355.13,1085.46 L356.12,1079.78 L357.12,1074.09 L358.13,1068.37 L359.15,1062.64 L360.18,1056.89 L361.22,1051.13 L362.28,1045.35 L363.34,1039.56 L364.41,1033.76 L365.49,1027.94 L366.58,1022.12 L367.69,1016.28 L368.80,1010.44 L369.92,1004.58 L371.06,998.73 L372.20,992.86 L373.36,986.99 L374.52,981.12 L375.70,975.24 L376.88,969.36 L378.08,963.48 L379.29,957.60 L380.50,951.72 L381.73,945.84 L382.97,939.96 L384.22,934.09 L385.47,928.22 L386.74,922.36 L388.02,916.50 L389.31,910.64 L390.61,904.80 L391.92,898.96 L393.24,893.13 L394.57,887.31 L395.91,881.51 L397.27,875.71 L398.63,869.92 L400.00,864.15 L401.38,858.39 L402.78,852.65 L404.18,846.92 L405.59,841.20 L407.02,835.51 L408.45,829.83 L409.90,824.16 L411.35,818.52 L412.82,812.89 L414.29,807.29 L415.78,801.70 L417.27,796.14 L418.78,790.60 L420.30,785.08 L421.83,779.58 L423.36,774.11 L424.91,768.66 L426.47,763.23 L428.04,757.83 L429.62,752.46 L431.21,747.11 L432.81,741.79 L434.42,736.49 L436.04,731.22 L437.67,725.99 L439.31,720.77 L440.97,715.59 L442.63,710.44 L444.30,705.32 L445.98,700.23 L447.68,695.16 L449.38,690.13 L451.09,685.14 L452.82,680.17 L454.55,675.23 L456.30,670.33 L458.05,665.46 L459.82,660.63 L461.60,655.82 L463.38,651.05 L465.18,646.32 L466.99,641.62 L468.80,636.95 L470.63,632.32 L472.47,627.72 L474.32,623.16 L476.18,618.64 L478.05,614.15 L479.93,609.70 L481.82,605.28 L483.72,600.90 L485.63,596.55 L487.55,592.25 L489.48,587.97 L491.42,583.74 L493.38,579.54 L495.34,575.38 L497.31,571.26 L499.29,567.17 L501.29,563.13 L503.29,559.12 L505.31,555.14 L507.33,551.21 L509.37,547.31 L511.41,543.45 L513.47,539.63 L515.53,535.84 L517.61,532.10 L519.70,528.39 L521.79,524.72 L523.90,521.09 L526.02,517.49 L528.15,513.93 L530.29,510.41 L532.44,506.93 L534.59,503.48 L536.76,500.08 L538.94,496.71 L541.14,493.37 L543.34,490.08 L545.55,486.82 L547.77,483.60 L550.00,480.42 L552.24,477.27 L554.50,474.16 L556.76,471.08 L559.03,468.05 L561.31,465.04 L563.61,462.08 L565.91,459.15 L568.23,456.26 L570.55,453.40 L572.89,450.58 L575.23,447.79 L577.59,445.04 L579.96,442.32 L582.33,439.64 L584.72,436.99 L587.12,434.38 L589.53,431.80 L591.94,429.26 L594.37,426.75 L596.81,424.27 L599.26,421.83 L601.72,419.42 L604.19,417.04 L606.67,414.70 L609.16,412.38 L611.66,410.10 L614.18,407.86 L616.70,405.64 L619.23,403.46 L621.77,401.30 L624.32,399.18 L626.89,397.09 L629.46,395.03 L632.05,393.00 L634.64,391.00 L637.24,389.03 L639.86,387.09 L642.49,385.17 L645.12,383.29 L647.77,381.44 L650.42,379.61 L653.09,377.81 L655.77,376.04 L658.46,374.30 L661.15,372.59 L663.86,370.90 L666.58,369.24 L669.31,367.60 L672.05,365.99 L674.80,364.41 L677.56,362.86 L680.33,361.32 L683.11,359.82 L685.90,358.34 L688.70,356.88 L691.51,355.45 L694.34,354.04 L697.17,352.66 L700.01,351.29 L702.86,349.96 L705.73,348.64 L708.60,347.35 L711.49,346.08 L714.38,344.83 L717.29,343.61 L720.20,342.40 L723.13,341.22 L726.06,340.06 L729.01,338.91 L731.97,337.79 L734.93,336.69 L737.91,335.61 L740.90,334.55 L743.90,333.51 L746.91,332.49 L749.93,331.48 L752.95,330.50 L755.99,329.53 L759.04,328.58 L762.10,327.65 L765.18,326.74 L768.26,325.84 L771.35,324.96 L774.45,324.10 L777.56,323.26 L780.68,322.43 L783.82,321.61 L786.96,320.82 L790.11,320.03 L793.28,319.27 L796.45,318.52 L799.64,317.78 L802.83,317.06 L806.04,316.35 L809.25,315.66 L812.48,314.98 L815.72,314.32 L818.96,313.67 L822.22,313.03 L825.49,312.40 L828.77,311.79 L832.05,311.19 L835.35,310.60 L838.66,310.03 L841.98,309.47 L845.31,308.92 L848.65,308.38 L852.00,307.85 L855.36,307.33 L858.73,306.83 L862.11,306.33 L865.51,305.85 L868.91,305.37 L872.32,304.91 L875.74,304.46 L879.18,304.01 L882.62,303.58 L886.07,303.16 L889.54,302.74 L893.01,302.34 L896.50,301.94 L899.99,301.55 L903.50,301.18 L907.02,300.81 L910.54,300.44 L914.08,300.09 L917.63,299.75 L921.18,299.41 L924.75,299.08 L928.33,298.76 L931.92,298.44 L935.52,298.13 L939.13,297.83 L942.75,297.54 L946.38,297.25 L950.02,296.97 L953.67,296.70 L957.33,296.44 L961.00,296.18 L964.68,295.92 L968.37,295.67 L972.08,295.43 L975.79,295.20 L979.51,294.97 L983.25,294.74 L986.99,294.52 L990.74,294.31 L994.51,294.10 L998.28,293.90 L1002.07,293.70 L1005.86,293.51 L1009.67,293.32 L1013.49,293.13 L1017.31,292.95 L1021.15,292.78 L1025.00,292.61 L1028.86,292.44 L1032.72,292.28 L1036.60,292.12 L1040.49,291.97 L1044.39,291.82 L1048.30,291.67 L1052.22,291.53 L1056.15,291.39 L1060.09,291.26 L1064.04,291.13 L1068.00,291.00 L1071.98,290.88 L1075.96,290.75 L1079.95,290.64 L1083.95,290.52 L1087.97,290.41 L1091.99,290.30 L1096.02,290.19 L1100.07,290.09 L1104.12,289.99 L1108.19,289.89 L1112.26,289.80 L1116.35,289.71 L1120.45,289.62 L1124.55,289.53 L1128.67,289.44 L1132.80,289.36 L1136.93,289.28 L1141.08,289.20 L1145.24,289.13 L1149.41,289.05 L1153.59,288.98 L1157.78,288.91 L1161.98,288.84 L1166.19,288.78 L1170.41,288.71 L1174.64,288.65 L1178.88,288.59 L1183.13,288.53 L1187.39,288.47 L1191.66,288.42 L1195.95,288.36 L1200.24,288.31 L1204.54,288.26 L1208.86,288.21 L1213.18,288.16 L1217.51,288.12 L1221.86,288.07 L1226.21,288.03 L1230.58,287.99 L1234.95,287.94 L1239.34,287.90 L1243.74,287.87 L1248.14,287.83 L1252.56,287.79 L1256.99,287.76 L1261.43,287.72 L1265.87,287.69 L1270.33,287.66 L1274.80,287.62 L1279.28,287.59 L1283.77,287.56 L1288.27,287.53 L1292.78,287.51 L1297.30,287.48 L1301.83,287.45 L1306.37,287.43 L1310.93,287.40 L1315.49,287.38 L1320.06,287.36 L1324.64,287.33 L1329.24,287.31 L1333.84,287.29 L1338.45,287.27 L1343.08,287.25 L1347.71,287.23 L1352.36,287.21 L1357.01,287.20 L1361.68,287.18 L1366.35,287.16 L1371.04,287.15 L1375.74,287.13 L1380.44,287.12 L1385.16,287.10 L1389.89,287.09 L1394.63,287.07 L1399.38,287.06 L1404.14,287.05 L1408.90,287.03 L1413.68,287.02 L1418.47,287.01 L1423.27,287.00 L1428.09,286.99 L1432.91,286.98 L1437.74,286.97 L1442.58,286.96 L1447.43,286.95 L1452.29,286.94 L1457.17,286.93 L1462.05,286.92 L1466.94,286.91 L1471.85,286.90 L1476.76,286.90 L1481.69,286.89 L1486.62,286.88 L1491.57,286.87 L1496.52,286.87 L1501.49,286.86 L1506.46,286.86 L1511.45,286.85 L1516.45,286.84 L1521.46,286.84 L1526.47,286.83 L1531.50,286.83 L1536.54,286.82 L1541.59,286.82 L1546.65,286.81 L1551.72,286.81 L1556.80,286.80 L1561.89,286.80 L1566.99,286.79 L1572.10,286.79 L1577.22,286.79 L1582.35,286.78 L1587.49,286.78 L1592.65,286.78 L1597.81,286.77 L1602.98,286.77 L1608.17,286.77 L1613.36,286.76 L1618.56,286.76 L1623.78,286.76 L1629.00,286.75 L1634.24,286.75 L1639.49,286.75 L1644.74,286.75 L1650.01,286.74 L1655.28,286.74 L1660.57,286.74 L1665.87,286.74 L1671.18,286.74 L1676.49,286.73 L1681.82,286.73 L1687.16,286.73 L1692.51,286.73 L1697.87,286.73 L1703.24,286.73 L1708.62,286.72 L1714.01,286.72 L1719.41,286.72 L1724.82,286.72 L1730.25,286.72 L1735.68,286.72 L1741.12,286.72 L1746.57,286.71 L1752.04,286.71 L1757.51,286.71 L1762.99,286.71 L1768.49,286.71 L1773.99,286.71 L1779.51,286.71 L1785.03,286.71 L1790.57,286.71 L1796.11,286.71 L1801.67,286.71 L1807.24,286.70 L1812.81,286.70 L1818.40,286.70 L1824.00,286.70 L1829.61,286.70 L1835.23,286.70 L1840.86,286.70 L1846.49,286.70 L1852.14,286.70 L1857.80,286.70 L1863.47,286.70 L1869.15,286.70 L1874.85,286.70 L1880.55,286.70 L1886.26,286.70 L1891.98,286.70 L1897.71,286.70 L1903.46,286.69 L1909.21,286.69 L1914.97,286.69 L1920.75,286.69 L1926.53,286.69 L1932.33,286.69 L1938.13,286.69 L1943.95,286.69 L1949.77,286.69 L1955.61,286.69 L1961.45,286.69 L1967.31,286.69 L1973.18,286.69 L1979.05,286.69 L1984.94,286.69 L1990.84,286.69 L1996.75,286.69 L2002.67,286.69 L2008.60,286.69 L2014.54,286.69 L2020.49,286.69 L2026.45,286.69 L2032.42,286.69 L2038.40,286.69 L2044.39,286.69 L2050.39,286.69 L2056.40,286.69 L2062.43,286.69 L2068.46,286.69 L2074.50,286.69 L2080.56,286.69 L2086.62,286.69 L2092.69,286.69 L2098.78,286.69 L2104.87,286.69 L2110.98,286.69 L2117.09,286.69 L2123.22,286.69 L2129.36,286.69 L2135.50,286.69 L2141.66,286.69 L2147.83,286.69 L2154.00,286.69 L2160.19,286.69 L2166.39,286.69 L2172.60,286.69"/>
<path stroke="#000" d="M313.04,1380.47 L459.11,670.94 M476.26,629.11 L606.59,428.01 M639.22,397.56 L754.33,333.81 M796.91,317.73 L907.34,293.44 M952.80,288.50 L1062.15,288.50 M1108.15,288.50 L1217.50,288.50 M1263.50,288.50 L1372.85,288.50 M1418.85,288.50 L1528.20,288.50 M1574.20,288.50 L1683.55,288.50 M1729.55,288.50 L1838.90,288.50 M1884.90,288.50 L1994.25,288.50 M2040.25,288.50 L2149.60,288.50"/>
<rect x="292" y="1386" width="32" height="32" fill="#000" stroke="none"/>
<rect x="448" y="632" width="32" height="32" fill="#000" stroke="none"/>
<rect x="603" y="392" width="32" height="32" fill="#000" stroke="none"/>
<rect x="758" y="306" width="32" height="32" fill="#000" stroke="none"/>
<rect x="914" y="272" width="32" height="32" fill="#000" stroke="none"/>
<rect x="1069" y="272" width="32" height="32" fill="#000" stroke="none"/>
<rect x="1225" y="272" width="32" height="32" fill="#000" stroke="none"/>
<rect x="1380" y="272" width="32" height="32" fill="#000" stroke="none"/>
<rect x="1535" y="272" width="32" height="32" fill="#000" stroke="none"/>
<rect x="1691" y="272" width="32" height="32" fill="#000" stroke="none"/>
<rect x="1846" y="272" width="32" height="32" fill="#000" stroke="none"/>
<rect x="2001" y="272" width="32" height="32" fill="#000" stroke="none"/>
<rect x="2157" y="272" width="32" height="32" fill="#000" stroke="none"/>
</g>
<g fill="#000">
<path fill-rule="evenodd" d="M308,28 H2172 Q2175,28 2175,31 V1403 Q2175,1406 2172,1406 H308 Q305,1406 305,1403 V31 Q305,28 308,28 Z M312,34 V1399 H2169 V34 Z"/>
<rect x="311" y="971" width="28" height="6"/>
<rect x="311" y="542" width="28" height="6"/>
<rect x="311" y="114" width="28" height="6"/>
<rect x="616" y="1372" width="6" height="28"/>
<rect x="927" y="1372" width="6" height="28"/>
<rect x="1238" y="1372" width="6" height="28"/>
<rect x="1548" y="1372" width="6" height="28"/>
<rect x="1859" y="1372" width="6" height="28"/>
</g>
<g filter="url(#bin)">
<g font-size="93">
<text transform="translate(277.5,1430.1) scale(1,1.024)" text-anchor="end">0.0</text>
<text transform="translate(277.5,1001.6) scale(1,1.024)" text-anchor="end">0.5</text>
<text transform="translate(277.5,573.1) scale(1,1.024)" text-anchor="end">1.0</text>
<text transform="translate(277.5,144.6) scale(1,1.024)" text-anchor="end">1.5</text>
<text transform="translate(308.4,1504.8) scale(1,1.024)" text-anchor="middle">0</text>
<text transform="translate(619.1,1504.8) scale(1,1.024)" text-anchor="middle">10</text>
<text transform="translate(929.8,1504.8) scale(1,1.024)" text-anchor="middle">20</text>
<text transform="translate(1240.5,1504.8) scale(1,1.024)" text-anchor="middle">30</text>
<text transform="translate(1551.2,1504.8) scale(1,1.024)" text-anchor="middle">40</text>
<text transform="translate(1861.9,1504.8) scale(1,1.024)" text-anchor="middle">50</text>
<text transform="translate(2172.6,1504.8) scale(1,1.024)" text-anchor="middle">60</text>
</g>
<text x="1251.3" y="1631.6" font-size="121" text-anchor="middle">t / min</text>
<text transform="translate(94.9,979.2) rotate(-90)" font-size="119.8">q<tspan font-size="77.5" dx="-1.5" dy="42.8">t</tspan><tspan dy="-42.8"> / mmol/</tspan><tspan dx="-2.5">g</tspan></text>
<g stroke-width="3" fill="none">
<path stroke="#00ff00" d="M978.5,701.5 H1176"/>
<path stroke="#ff0000" d="M978.5,817.5 H1176"/>
<path stroke="#0000ff" d="M978.5,932.5 H1176"/>
<path stroke="#ff00ff" d="M978.5,1048.5 H1176"/>
<path stroke="#000" d="M984,1200.5 H1062 M1102,1200.5 H1181"/>
</g>
<rect x="1066" y="1184" width="32" height="32" fill="#000"/>
<g font-size="94.2">
<text x="1196" y="730.8">Pesudo-first-order</text>
<text x="1196" y="846.4">Pesudo-second-order</text>
<text x="1196" y="962.0">Intra-particle diffusion</text>
<text x="1196" y="1077.6">Bangham</text>
<text x="1200.5" y="1230.2" font-size="93.3">Experimental</text>
</g>
</g>
</svg>
</body></html>
